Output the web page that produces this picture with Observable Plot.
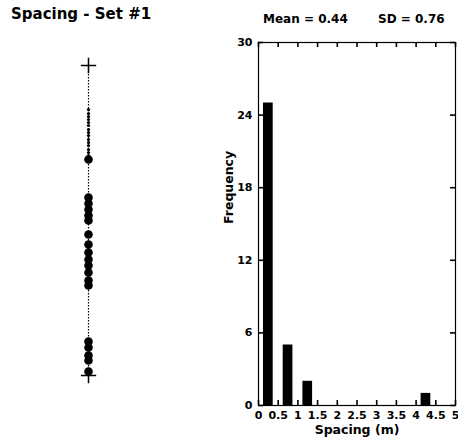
<!DOCTYPE html>
<html>
<head>
<meta charset="utf-8">
<script src="https://cdn.jsdelivr.net/npm/d3@7"></script>
<script src="https://cdn.jsdelivr.net/npm/@observablehq/plot@0.6"></script>
<style>
  html, body { margin: 0; padding: 0; background: #fff; }
  #wrap { position: relative; width: 458px; height: 448px; font-family: "DejaVu Sans", sans-serif; font-weight: bold; color: #000; }
  .txt { position: absolute; white-space: nowrap; font-weight: bold; }
  #left { position: absolute; left: 0; top: 0; }
  #right { position: absolute; left: 200px; top: 0; }
</style>
</head>
<body>
<div id="wrap">
  <div id="left"></div>
  <div id="right"></div>
  <div class="txt" style="left:11px; top:5px; font-size:15px;">Spacing - Set #1</div>
  <div class="txt" style="left:263px; top:12px; font-size:12px;">Mean = 0.44</div>
  <div class="txt" style="left:378px; top:12px; font-size:12px;">SD = 0.76</div>
</div>
<script>
// Scanline (left panel): fracture positions along the scanline (m)
const scanLength = 15.5;
const thinFractures = [2.2, 2.4, 2.55, 2.7, 2.85, 3.0, 3.2, 3.35, 3.5, 3.7, 3.85, 4.0, 4.2, 4.35, 4.5];
const fractures = [4.7, 6.6, 6.9, 7.2, 7.5, 7.75, 8.45, 8.95, 9.35, 9.7, 10.0, 10.35, 10.75, 11.0, 13.8, 14.1, 14.5, 14.75, 15.3];
const scanEnds = [0, scanLength];

// Histogram (right panel)
const binStarts = [0, 0.5, 1.0, 4.0];
const binWidth = 0.5;
const counts = [25, 5, 2, 1];
const xTicks = [0, 0.5, 1, 1.5, 2, 2.5, 3, 3.5, 4, 4.5, 5];
const yTicks = [0, 6, 12, 18, 24, 30];
const xDomain = [0, 5];
const yDomain = [0, 30];

const left = Plot.plot({
  width: 200, height: 448,
  marginLeft: 0, marginRight: 24, marginTop: 65, marginBottom: 73,
  x: {domain: [-1, 1], axis: null},
  y: {domain: [0, scanLength], reverse: true, axis: null},
  marks: [
    Plot.ruleX([0], {y1: 0, y2: scanLength, stroke: "#000", strokeWidth: 1.2, strokeDasharray: "1.5,1.5"}),
    Plot.dot(scanEnds, {x: 0, y: d => d, symbol: "plus", r: 5, stroke: "#000", strokeWidth: 1.5}),
    Plot.dot(thinFractures, {x: 0, y: d => d, r: 1.6, fill: "#000", stroke: "none"}),
    Plot.dot(fractures, {x: 0, y: d => d, r: 4.3, fill: "#000", stroke: "none"})
  ]
});
document.getElementById("left").appendChild(left);

const bars = binStarts.map((b, i) => ({x1: b, x2: b + binWidth, count: counts[i]}));

const W = 258, H = 448, mL = 58, mR = 3, mT = 42, mB = 43;
const frameW = W - mL - mR, frameH = H - mT - mB, tk = 5;
// tick length converted to data units of each scale
const tkY = tk * (yDomain[1] - yDomain[0]) / frameH;
const tkX = tk * (xDomain[1] - xDomain[0]) / frameW;

const tickStyle = {stroke: "#000", strokeWidth: 1.6};
const tickRules = [
  Plot.ruleX(xTicks, {x: d => d, y1: yDomain[0], y2: yDomain[0] + tkY, ...tickStyle}),
  Plot.ruleX(xTicks, {x: d => d, y1: yDomain[1], y2: yDomain[1] - tkY, ...tickStyle}),
  Plot.ruleY(yTicks, {y: d => d, x1: xDomain[0], x2: xDomain[0] + tkX, ...tickStyle}),
  Plot.ruleY(yTicks, {y: d => d, x1: xDomain[1], x2: xDomain[1] - tkX, ...tickStyle})
];

const right = Plot.plot({
  width: W, height: H,
  marginLeft: mL, marginRight: mR, marginTop: mT, marginBottom: mB,
  style: {fontFamily: "DejaVu Sans, sans-serif", fontWeight: "bold", fontSize: "11px", color: "#000"},
  x: {domain: xDomain, label: null},
  y: {domain: yDomain, label: null},
  marks: [
    Plot.rectY(bars, {x1: "x1", x2: "x2", y: "count", fill: "#000", insetLeft: 5, insetRight: 5}),
    Plot.frame({stroke: "#000", strokeWidth: 1.2}),
    ...tickRules,
    Plot.axisX({anchor: "bottom", ticks: xTicks, tickSize: 0, tickPadding: 6, tickFormat: d => String(d), fontSize: 11}),
    Plot.axisY({anchor: "left", ticks: yTicks, tickSize: 0, tickPadding: 6, fontSize: 11}),
    Plot.text(["Spacing (m)"], {frameAnchor: "bottom", dy: 28, fontSize: 12.5, fontWeight: "bold"}),
    Plot.text(["Frequency"], {frameAnchor: "left", dx: -30, rotate: -90, fontSize: 12.5, fontWeight: "bold"})
  ]
});
document.getElementById("right").appendChild(right);
</script>
</body>
</html>
